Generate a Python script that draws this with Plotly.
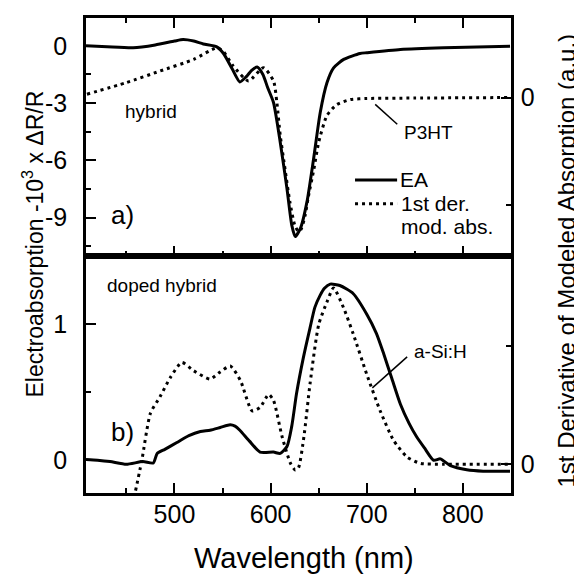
import plotly.graph_objects as go

# ---------------- data ----------------
# top panel: EA (left axis, -10^3 x dR/R)
wl_ea_top = [408, 430, 457, 480, 500, 509, 520, 530, 544, 551, 560, 568, 575, 580, 586,
             592, 597, 603, 610, 617, 622, 625.6, 631, 637.8, 644.7, 651.6, 658.6, 665.5,
             676, 693, 700, 735, 780, 849]
ea_top = [0.0, -0.05, -0.1, 0.05, 0.25, 0.33, 0.25, 0.1, -0.05, -0.4, -1.2, -1.89, -1.6, -1.3, -1.11,
          -1.5, -2.2, -2.97, -5.05, -7.48, -9.4, -10.0, -9.57, -8.18, -5.92, -3.49, -1.93, -1.15,
          -0.71, -0.4, -0.36, -0.19, -0.1, -0.02]

# top panel: 1st derivative of modeled absorption (right axis, a.u.)
wl_der_top = [409, 450, 485, 520, 544, 551, 561, 577, 592.6, 603, 606.5, 610, 615, 620, 625,
              629, 632, 636, 639, 645, 650, 658.6, 669, 683, 700, 750, 850]
der_top = [0.031, 0.139, 0.247, 0.355, 0.463, 0.428, 0.294, 0.155, 0.278, 0.155, -0.046, -0.352,
           -0.667, -0.972, -1.185, -1.25, -1.222, -1.093, -0.935, -0.667, -0.417, -0.167, -0.065,
           -0.019, -0.009, -0.005, 0.0]

# bottom panel: EA (left axis)
wl_ea_bot = [408, 420, 433, 450, 467, 478, 482, 490, 502.5, 515, 527, 537, 547.6, 558, 563, 568,
             578, 589, 603, 610, 617, 622, 627, 634, 641, 646, 651.6, 656, 662, 672, 686, 700,
             710, 717.6, 726, 735, 744, 752, 760, 769.5, 776.5, 787, 804, 821, 849]
ea_bot = [0.005, 0.0, -0.01, -0.03, -0.01, -0.02, 0.05, 0.08, 0.13, 0.18, 0.21, 0.22, 0.24, 0.26, 0.25,
          0.22, 0.14, 0.06, 0.06, 0.05, 0.1, 0.25, 0.49, 0.75, 0.97, 1.12, 1.21, 1.26, 1.29, 1.28,
          1.22, 1.07, 0.93, 0.78, 0.6, 0.41, 0.27, 0.17, 0.09, 0.0, 0.01, -0.04, -0.07, -0.08, -0.08]

# bottom panel: 1st derivative of modeled absorption (right axis)
wl_der_bot = [455, 466, 475, 485, 495.5, 507.7, 520, 537, 547.6, 558, 568.5, 580.8, 589, 598, 603,
              612, 620.5, 625.6, 629, 634.6, 641, 650, 659, 665.5, 676, 686, 700, 714, 728, 742,
              756, 780, 849]
der_bot = [-0.4, 0.03, 0.43, 0.57, 0.73, 0.86, 0.79, 0.72, 0.78, 0.83, 0.71, 0.45, 0.48, 0.59, 0.54,
           0.23, 0.01, -0.05, -0.03, 0.23, 0.68, 1.18, 1.38, 1.49, 1.32, 1.1, 0.76, 0.45, 0.2, 0.06,
           0.006, 0.0, 0.0]

x_ticks = [500, 600, 700, 800]
x_minor = [450, 550, 650, 750, 850]
top_left_ticks = [-9, -6, -3, 0]
top_left_text = ["-9", "-6", "-3", "0"]
top_left_minor = [-10.5, -7.5, -4.5, -1.5]
bot_left_ticks = [0, 1]
bot_left_text = ["0", "1"]
bot_left_minor = [0.5]
right_ticks = [0]
right_text = ["0"]
top_right_minor = [-1]
bot_right_minor = [1]

legend_names = ["EA", "1st der.", "mod. abs."]

FONT = "Liberation Sans, Arial, sans-serif"
BLACK = "black"
DOT = "3px,4px"

fig = go.Figure()
fig.add_trace(go.Scatter(x=wl_ea_top, y=ea_top, xaxis="x2", yaxis="y3", mode="lines",
                         line=dict(color=BLACK, width=3, shape="spline", smoothing=0.6),
                         name=legend_names[0], showlegend=False))
fig.add_trace(go.Scatter(x=wl_der_top, y=der_top, xaxis="x2", yaxis="y4", mode="lines",
                         line=dict(color=BLACK, width=3, dash=DOT, shape="spline", smoothing=0.6),
                         name=legend_names[1], showlegend=False))
fig.add_trace(go.Scatter(x=wl_ea_bot, y=ea_bot, xaxis="x", yaxis="y", mode="lines",
                         line=dict(color=BLACK, width=3, shape="spline", smoothing=0.6),
                         showlegend=False))
fig.add_trace(go.Scatter(x=wl_der_bot, y=der_bot, xaxis="x", yaxis="y2", mode="lines",
                         line=dict(color=BLACK, width=3, dash=DOT, shape="spline", smoothing=0.6),
                         showlegend=False))

common = dict(showline=True, linecolor=BLACK, linewidth=2.5, ticks="inside", tickcolor=BLACK,
              tickwidth=2, ticklen=10, showgrid=False, zeroline=False,
              tickfont=dict(size=25, color=BLACK, family=FONT))

def minor(vals):
    return dict(tickmode="array", tickvals=vals, ticks="inside", ticklen=5, tickwidth=2,
                tickcolor=BLACK, showgrid=False)

# the page body adds an 8px offset, so the figure is 8px smaller than the window
fig.update_layout(
    width=574, height=566,
    margin=dict(l=78, r=71, t=7, b=81),
    paper_bgcolor="white", plot_bgcolor="white",
    font=dict(family=FONT, color=BLACK),
    showlegend=False,
    xaxis=dict(domain=[0, 1], anchor="y", range=[408, 850], tickmode="array", tickvals=x_ticks,
               minor=minor(x_minor), mirror=True, ticklabelstandoff=-3, **common),
    xaxis2=dict(domain=[0, 1], anchor="y3", range=[408, 850], matches="x", tickmode="array",
                tickvals=x_ticks, minor=minor(x_minor), mirror="ticks", showticklabels=False, **common),
    yaxis=dict(domain=[0, 0.5], anchor="x", range=[-0.24, 1.5], tickmode="array",
               tickvals=bot_left_ticks, ticktext=bot_left_text, minor=minor(bot_left_minor),
               ticklabelstandoff=11, **common),
    yaxis2=dict(overlaying="y", side="right", anchor="x", range=[-0.244, 1.765], tickmode="array",
                tickvals=right_ticks, ticktext=right_text, minor=minor(bot_right_minor),
                ticklabelstandoff=2, **common),
    yaxis3=dict(domain=[0.5, 1], anchor="x2", range=[-10.99, 1.46], tickmode="array",
                tickvals=top_left_ticks, ticktext=top_left_text, minor=minor(top_left_minor),
                ticklabelstandoff=11, **common),
    yaxis4=dict(overlaying="y3", side="right", anchor="x2", range=[-1.472, 0.741], tickmode="array",
                tickvals=right_ticks, ticktext=right_text, minor=minor(top_right_minor),
                ticklabelstandoff=2, **common),
)

ann_font = dict(family=FONT, size=19, color=BLACK)
leg_font = dict(family=FONT, size=21, color=BLACK)
annotations = [
    dict(text="Wavelength (nm)", xref="paper", yref="paper", x=0.512, y=-0.136,
         xanchor="center", yanchor="middle", showarrow=False, font=dict(family=FONT, size=29, color=BLACK)),
    dict(text="Electroabsorption -10<sup>3</sup> x ΔR/R", xref="paper", yref="paper", x=-0.125, y=0.525,
         xanchor="center", yanchor="middle", textangle=-90, showarrow=False,
         font=dict(family=FONT, size=23, color=BLACK)),
    dict(text="1st Derivative of Modeled Absorption (a.u.)", xref="paper", yref="paper", x=1.13, y=0.49,
         xanchor="center", yanchor="middle", textangle=-90, showarrow=False,
         font=dict(family=FONT, size=24, color=BLACK)),
    dict(text="hybrid", xref="x2", yref="y3", x=446, y=-3.44, xanchor="left", yanchor="middle",
         showarrow=False, font=ann_font),
    dict(text="a)", xref="x2", yref="y3", x=432, y=-8.85, xanchor="left", yanchor="middle",
         showarrow=False, font=dict(family=FONT, size=26, color=BLACK)),
    dict(text="P3HT", xref="x2", yref="y3", x=737, y=-4.53, xanchor="left", yanchor="middle",
         showarrow=False, font=ann_font),
    dict(text="doped hybrid", xref="x", yref="y", x=428, y=1.28, xanchor="left", yanchor="middle",
         showarrow=False, font=ann_font),
    dict(text="b)", xref="x", yref="y", x=432, y=0.204, xanchor="left", yanchor="middle",
         showarrow=False, font=dict(family=FONT, size=26, color=BLACK)),
    dict(text="a-Si:H", xref="x", yref="y", x=747, y=0.80, xanchor="left", yanchor="middle",
         showarrow=False, font=ann_font),
    # legend
    dict(text=legend_names[0], xref="paper", yref="paper", x=0.734, y=0.659, xanchor="left",
         yanchor="middle", showarrow=False, font=leg_font),
    dict(text=legend_names[1], xref="paper", yref="paper", x=0.737, y=0.609, xanchor="left",
         yanchor="middle", showarrow=False, font=leg_font),
    dict(text=legend_names[2], xref="paper", yref="paper", x=0.737, y=0.561, xanchor="left",
         yanchor="middle", showarrow=False, font=leg_font),
]
fig.update_layout(annotations=annotations)

# legend samples
fig.add_shape(type="line", xref="paper", yref="paper", x0=0.633, x1=0.732, y0=0.659, y1=0.659,
              line=dict(color=BLACK, width=3))
fig.add_shape(type="line", xref="paper", yref="paper", x0=0.633, x1=0.732, y0=0.609, y1=0.609,
              line=dict(color=BLACK, width=3, dash=DOT))
# pointer lines
fig.add_shape(type="line", xref="x2", yref="y3", x0=708.8, y0=-3.07, x1=731.7, y1=-4.11,
              line=dict(color=BLACK, width=1.5))
fig.add_shape(type="line", xref="x", yref="y", x0=742, y0=0.757, x1=705.8, y1=0.53,
              line=dict(color=BLACK, width=1.5))

fig.write_html("out.html")
